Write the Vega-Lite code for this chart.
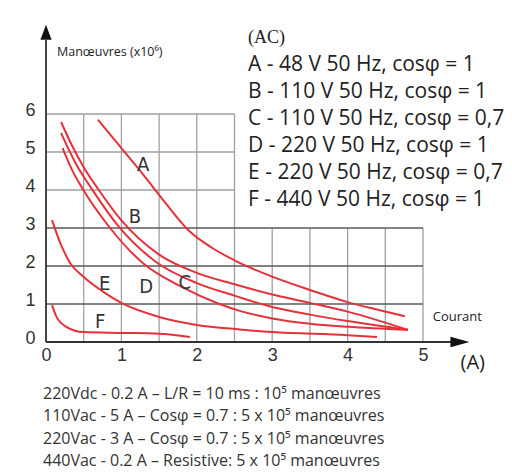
{
  "$schema": "https://vega.github.io/schema/vega-lite/v6.json",
  "width": 377,
  "height": 228,
  "autosize": {"type": "none"},
  "padding": {"left": 46, "top": 114, "right": 89, "bottom": 133},
  "background": "white",
  "config": {"view": {"stroke": null}},
  "datasets": {
    "grid": [
      {"x": 0.5, "x2": 0.5, "y": 0, "y2": 6, "kind": "minor"},
      {"x": 1, "x2": 1, "y": 0, "y2": 6, "kind": "minor"},
      {"x": 1.5, "x2": 1.5, "y": 0, "y2": 6, "kind": "minor"},
      {"x": 2, "x2": 2, "y": 0, "y2": 6, "kind": "minor"},
      {"x": 2.5, "x2": 2.5, "y": 0, "y2": 6, "kind": "minor"},
      {"x": 3, "x2": 3, "y": 0, "y2": 3, "kind": "minor"},
      {"x": 3.5, "x2": 3.5, "y": 0, "y2": 3, "kind": "minor"},
      {"x": 4, "x2": 4, "y": 0, "y2": 3, "kind": "minor"},
      {"x": 4.5, "x2": 4.5, "y": 0, "y2": 3, "kind": "minor"},
      {"x": 5, "x2": 5, "y": 0, "y2": 3, "kind": "minor"},
      {"x": 0, "x2": 2.5, "y": 4, "y2": 4, "kind": "minor"},
      {"x": 0, "x2": 2.5, "y": 5, "y2": 5, "kind": "minor"},
      {"x": 0, "x2": 2.5, "y": 6, "y2": 6, "kind": "minor"},
      {"x": 0, "x2": 5, "y": 1, "y2": 1, "kind": "major"},
      {"x": 0, "x2": 5, "y": 2, "y2": 2, "kind": "major"},
      {"x": 0, "x2": 5, "y": 3, "y2": 3, "kind": "major"}
    ],
    "axes": [
      {"x": 0, "x2": 0, "y": 0, "y2": 7.95},
      {"x": 0, "x2": 5.45, "y": 0, "y2": 0}
    ],
    "curves": [
      {"s": "A", "x": 0.69, "y": 5.85}, {"s": "A", "x": 1.0, "y": 5.1}, {"s": "A", "x": 1.3, "y": 4.38},
      {"s": "A", "x": 1.6, "y": 3.62}, {"s": "A", "x": 1.9, "y": 2.92}, {"s": "A", "x": 2.2, "y": 2.48},
      {"s": "A", "x": 2.5, "y": 2.15}, {"s": "A", "x": 3.0, "y": 1.72}, {"s": "A", "x": 3.5, "y": 1.37},
      {"s": "A", "x": 4.0, "y": 1.05}, {"s": "A", "x": 4.4, "y": 0.85}, {"s": "A", "x": 4.76, "y": 0.68},
      {"s": "B", "x": 0.2, "y": 5.79}, {"s": "B", "x": 0.35, "y": 5.15}, {"s": "B", "x": 0.5, "y": 4.6},
      {"s": "B", "x": 0.7, "y": 4.0}, {"s": "B", "x": 1.0, "y": 3.2}, {"s": "B", "x": 1.5, "y": 2.3},
      {"s": "B", "x": 2.0, "y": 1.82}, {"s": "B", "x": 2.5, "y": 1.52}, {"s": "B", "x": 3.0, "y": 1.25},
      {"s": "B", "x": 3.5, "y": 1.03}, {"s": "B", "x": 4.0, "y": 0.8}, {"s": "B", "x": 4.8, "y": 0.32},
      {"s": "C", "x": 0.2, "y": 5.5}, {"s": "C", "x": 0.4, "y": 4.68}, {"s": "C", "x": 0.6, "y": 4.05},
      {"s": "C", "x": 0.96, "y": 3.05}, {"s": "C", "x": 1.45, "y": 2.12}, {"s": "C", "x": 2.0, "y": 1.55},
      {"s": "C", "x": 2.5, "y": 1.22}, {"s": "C", "x": 3.0, "y": 0.92}, {"s": "C", "x": 3.5, "y": 0.72},
      {"s": "C", "x": 4.0, "y": 0.55}, {"s": "C", "x": 4.8, "y": 0.32},
      {"s": "D", "x": 0.22, "y": 5.1}, {"s": "D", "x": 0.34, "y": 4.55}, {"s": "D", "x": 0.49, "y": 4.02},
      {"s": "D", "x": 0.85, "y": 3.0}, {"s": "D", "x": 1.3, "y": 2.05}, {"s": "D", "x": 1.8, "y": 1.45},
      {"s": "D", "x": 2.3, "y": 1.0}, {"s": "D", "x": 2.57, "y": 0.82}, {"s": "D", "x": 3.0, "y": 0.62},
      {"s": "D", "x": 3.5, "y": 0.48}, {"s": "D", "x": 4.0, "y": 0.4}, {"s": "D", "x": 4.8, "y": 0.32},
      {"s": "E", "x": 0.08, "y": 3.21}, {"s": "E", "x": 0.19, "y": 2.6}, {"s": "E", "x": 0.32, "y": 2.08},
      {"s": "E", "x": 0.5, "y": 1.71}, {"s": "E", "x": 0.76, "y": 1.32}, {"s": "E", "x": 1.0, "y": 1.03},
      {"s": "E", "x": 1.5, "y": 0.66}, {"s": "E", "x": 2.0, "y": 0.45}, {"s": "E", "x": 2.57, "y": 0.33},
      {"s": "E", "x": 3.0, "y": 0.26}, {"s": "E", "x": 4.0, "y": 0.18}, {"s": "E", "x": 4.39, "y": 0.13},
      {"s": "F", "x": 0.08, "y": 0.97}, {"s": "F", "x": 0.14, "y": 0.66}, {"s": "F", "x": 0.27, "y": 0.4},
      {"s": "F", "x": 0.5, "y": 0.26}, {"s": "F", "x": 1.0, "y": 0.24}, {"s": "F", "x": 1.5, "y": 0.22},
      {"s": "F", "x": 1.91, "y": 0.13}
    ],
    "labels": [
      {"x": 1.29, "y": 4.66, "t": "A"},
      {"x": 1.18, "y": 3.29, "t": "B"},
      {"x": 1.84, "y": 1.55, "t": "C"},
      {"x": 1.33, "y": 1.45, "t": "D"},
      {"x": 0.78, "y": 1.53, "t": "E"},
      {"x": 0.72, "y": 0.53, "t": "F"}
    ]
  },
  "encoding": {
    "x": {"field": "x", "type": "quantitative", "scale": {"domain": [0, 5], "nice": false, "zero": false},
      "axis": {"values": [0, 1, 2, 3, 4, 5], "domain": false, "ticks": false, "tickSize": 0, "grid": false, "title": null,
        "labelFontSize": 18, "labelFont": "Liberation Sans", "labelColor": "#333", "labelPadding": 4, "labelFlush": false}},
    "y": {"field": "y", "type": "quantitative", "scale": {"domain": [0, 6], "nice": false, "zero": false},
      "axis": {"values": [0, 1, 2, 3, 4, 5, 6], "domain": false, "ticks": false, "tickSize": 0, "grid": false, "title": null,
        "labelFontSize": 18, "labelFont": "Liberation Sans", "labelColor": "#333", "labelPadding": 11, "labelOffset": -4, "labelFlush": false}}
  },
  "layer": [
    {
      "data": {"name": "grid"},
      "mark": {"type": "rule"},
      "encoding": {
        "x2": {"field": "x2"},
        "y2": {"field": "y2"},
        "color": {"field": "kind", "type": "nominal", "scale": {"domain": ["major", "minor"], "range": ["#5a5a5a", "#a0a0a0"]}, "legend": null},
        "strokeWidth": {"field": "kind", "type": "nominal", "scale": {"domain": ["major", "minor"], "range": [1.6, 1.3]}, "legend": null}
      }
    },
    {
      "data": {"name": "axes"},
      "mark": {"type": "rule", "color": "#333", "strokeWidth": 1.8},
      "encoding": {"x2": {"field": "x2"}, "y2": {"field": "y2"}}
    },
    {
      "data": {"values": [{"x": 0, "y": 8.15}]},
      "mark": {"type": "point", "shape": "M0,-1L0.75,1L-0.75,1Z", "filled": true, "color": "#111", "size": 225, "opacity": 1}
    },
    {
      "data": {"values": [{"x": 5.49, "y": 0}]},
      "mark": {"type": "point", "shape": "M1,0L-1,-0.55L-1,0.55Z", "filled": true, "color": "#111", "size": 361, "opacity": 1}
    },
    {
      "data": {"name": "curves"},
      "mark": {"type": "line", "color": "#e4323a", "strokeWidth": 2, "interpolate": "monotone"},
      "encoding": {"detail": {"field": "s", "type": "nominal"}}
    },
    {
      "data": {"name": "labels"},
      "mark": {"type": "text", "font": "Liberation Sans Narrow, DejaVu Sans Condensed, sans-serif", "fontSize": 20, "color": "#333", "align": "center", "baseline": "middle"},
      "encoding": {"text": {"field": "t", "type": "nominal"}}
    },
    {
      "data": {"values": [{"x": 0.146, "y": 7.63, "t": "Manœuvres (x10⁶)"}]},
      "mark": {"type": "text", "font": "Open Sans", "fontSize": 12.5, "color": "#222", "align": "left", "baseline": "middle"},
      "encoding": {"text": {"field": "t", "type": "nominal"}}
    },
    {
      "data": {"values": [{"x": 2.68, "y": 8.0, "t": "(AC)"}]},
      "mark": {"type": "text", "font": "Liberation Serif", "fontSize": 18, "color": "#222", "align": "left", "baseline": "middle"},
      "encoding": {"text": {"field": "t", "type": "nominal"}}
    },
    {
      "data": {"values": [{"x": 2.68, "y": 7.14, "t": "A - 48 V 50 Hz, cosφ = 1\nB - 110 V 50 Hz, cosφ = 1\nC - 110 V 50 Hz, cosφ = 0,7\nD - 220 V 50 Hz, cosφ = 1\nE - 220 V 50 Hz, cosφ = 0,7\nF - 440 V 50 Hz, cosφ = 1"}]},
      "mark": {"type": "text", "font": "Open Sans", "fontSize": 21, "color": "#222", "align": "left", "baseline": "alphabetic", "lineBreak": "\n", "lineHeight": 27},
      "encoding": {"text": {"field": "t", "type": "nominal"}}
    },
    {
      "data": {"values": [{"x": -0.04, "y": -1.5, "t": "220Vdc - 0.2 A – L/R = 10 ms : 10⁵ manœuvres\n110Vac - 5 A – Cosφ = 0.7 :  5 x 10⁵ manœuvres\n220Vac - 3 A – Cosφ = 0.7 :  5 x 10⁵ manœuvres\n440Vac - 0.2 A – Resistive: 5 x 10⁵ manœuvres"}]},
      "mark": {"type": "text", "font": "Open Sans", "fontSize": 16, "color": "#333", "align": "left", "baseline": "alphabetic", "lineBreak": "\n", "lineHeight": 22.3},
      "encoding": {"text": {"field": "t", "type": "nominal"}}
    },
    {
      "data": {"values": [{"x": 5.13, "y": 0.66, "t": "Courant"}]},
      "mark": {"type": "text", "font": "Open Sans", "fontSize": 13, "color": "#222", "align": "left", "baseline": "middle"},
      "encoding": {"text": {"field": "t", "type": "nominal"}}
    },
    {
      "data": {"values": [{"x": 5.66, "y": -0.55, "t": "(A)"}]},
      "mark": {"type": "text", "font": "Open Sans", "fontSize": 20, "color": "#222", "align": "center", "baseline": "middle"},
      "encoding": {"text": {"field": "t", "type": "nominal"}}
    }
  ]
}
